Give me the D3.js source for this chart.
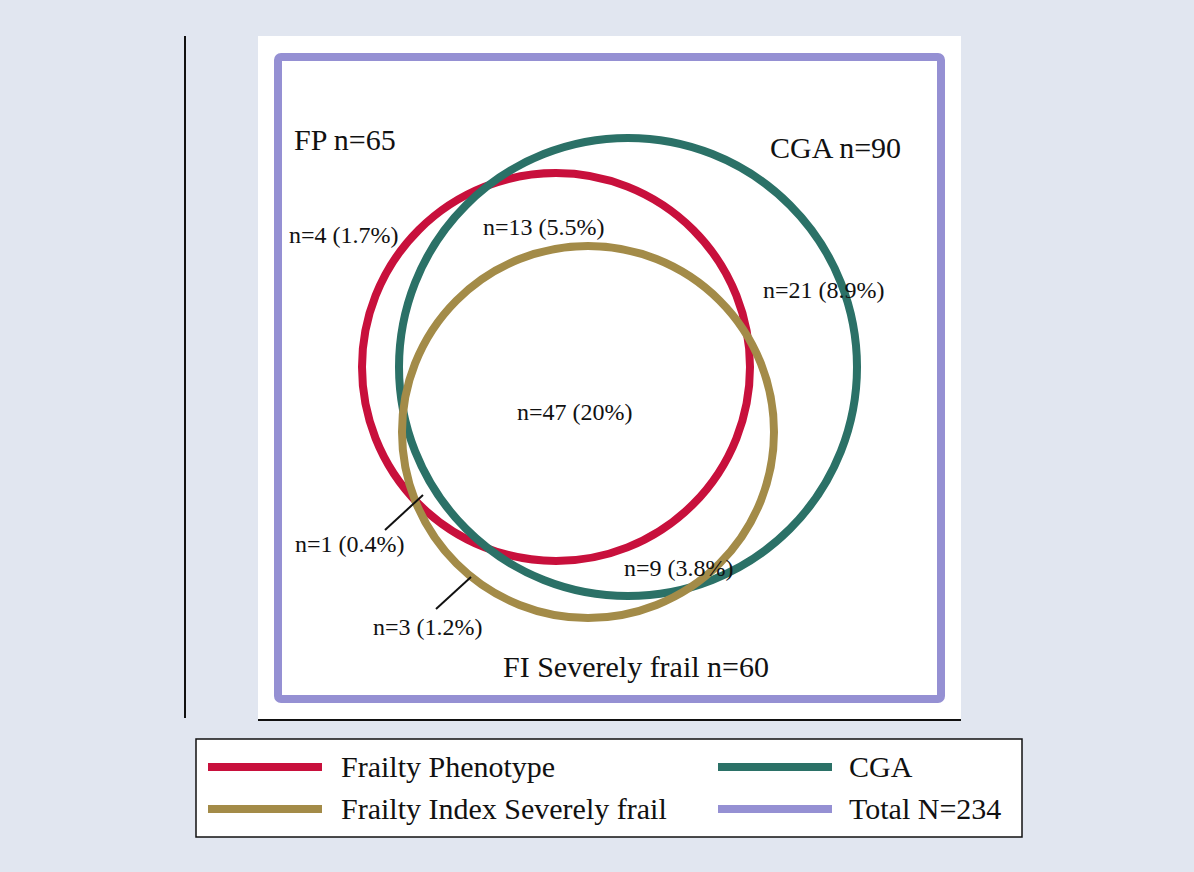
<!DOCTYPE html>
<html><head><meta charset="utf-8">
<script src="https://cdn.jsdelivr.net/npm/d3@7"></script>
<style>
html,body{margin:0;padding:0;background:#e1e6f0;}
svg{display:block;}
text{font-family:"Liberation Serif","Times New Roman",serif;fill:#111;}
</style></head>
<body>
<svg id="chart" width="1194" height="872"></svg>
<script>
// ---- data ----
const setNames = ["FP", "CGA", "FI Severely frail"];
const setCounts = [65, 90, 60];
const legendNames = ["Frailty Phenotype", "CGA", "Frailty Index Severely frail", "Total N=234"];
const totalN = 234;
const regionCounts = [4, 13, 21, 47, 1, 9, 3];
const regionPcts = ["1.7%", "5.5%", "8.9%", "20%", "0.4%", "3.8%", "1.2%"];

// ---- layout (positions in box units: 0..663 horizontally, 0..642 vertically) ----
const colors = ["#c8103c", "#2b7167", "#a38b48"];
const totalColor = "#9590d3";
const circleGeom = [
  {cx: 278, cy: 310, r: 194},
  {cx: 350, cy: 310, r: 229},
  {cx: 310, cy: 375, r: 186}
];
const setLabelPos = [{x: 16, y: 93}, {x: 492, y: 101}, {x: 225, y: 620}];
const regionLabelPos = [
  {x: 11, y: 186}, {x: 205, y: 178}, {x: 485, y: 241}, {x: 239, y: 363},
  {x: 17, y: 495}, {x: 346, y: 519}, {x: 95, y: 578}
];
const leaders = [
  {ri: 4, x1: 107, y1: 473, x2: 145, y2: 438},
  {ri: 6, x1: 158, y1: 552, x2: 193, y2: 520}
];

const svg = d3.select("#chart");
const box = {x0: 278, x1: 941, y0: 57, y1: 699};
const x = d3.scaleLinear().domain([0, 663]).range([box.x0, box.x1]);
const y = d3.scaleLinear().domain([0, 642]).range([box.y0, box.y1]);
const rs = d3.scaleLinear().domain([0, 663]).range([0, 663]);

// plot area background
svg.append("rect").attr("x", 258).attr("y", 36).attr("width", 703).attr("height", 684).attr("fill", "#fff");
// axis lines
svg.append("line").attr("x1", 185).attr("x2", 185).attr("y1", 36).attr("y2", 718).attr("stroke", "#111").attr("stroke-width", 2);
svg.append("line").attr("x1", 258).attr("x2", 961).attr("y1", 720).attr("y2", 720).attr("stroke", "#111").attr("stroke-width", 2);

// total box
svg.append("rect")
  .attr("x", x(0)).attr("y", y(0))
  .attr("width", x(663) - x(0)).attr("height", y(642) - y(0))
  .attr("rx", 3)
  .attr("fill", "none").attr("stroke", totalColor).attr("stroke-width", 8);

// circles
svg.selectAll("circle.set").data(setCounts).join("circle")
  .attr("class", "set")
  .attr("cx", (d, i) => x(circleGeom[i].cx))
  .attr("cy", (d, i) => y(circleGeom[i].cy))
  .attr("r", (d, i) => rs(circleGeom[i].r))
  .attr("fill", "none")
  .attr("stroke", (d, i) => colors[i])
  .attr("stroke-width", 8);

// set labels
svg.selectAll("text.setlab").data(setNames).join("text")
  .attr("class", "setlab")
  .attr("x", (d, i) => x(setLabelPos[i].x))
  .attr("y", (d, i) => y(setLabelPos[i].y))
  .attr("font-size", 30)
  .text((d, i) => `${d} n=${setCounts[i]}`);

// region labels
svg.selectAll("text.reglab").data(regionCounts).join("text")
  .attr("class", "reglab")
  .attr("x", (d, i) => x(regionLabelPos[i].x))
  .attr("y", (d, i) => y(regionLabelPos[i].y))
  .attr("font-size", 24)
  .text((d, i) => `n=${d} (${regionPcts[i]})`);

// leader lines
svg.selectAll("line.leader").data(leaders).join("line")
  .attr("class", "leader")
  .attr("x1", d => x(d.x1)).attr("y1", d => y(d.y1))
  .attr("x2", d => x(d.x2)).attr("y2", d => y(d.y2))
  .attr("stroke", "#111").attr("stroke-width", 2);

// legend
const lg = svg.append("g");
lg.append("rect").attr("x", 196).attr("y", 739).attr("width", 826).attr("height", 98)
  .attr("fill", "#fff").attr("stroke", "#111").attr("stroke-width", 1.5);
const legendColors = [colors[0], colors[1], colors[2], totalColor];
const legCols = [208, 718];
const legRows = [767, 809];
legendNames.forEach((name, i) => {
  const cx = legCols[i % 2], cy = legRows[Math.floor(i / 2)];
  lg.append("line").attr("x1", cx).attr("x2", cx + 114).attr("y1", cy).attr("y2", cy)
    .attr("stroke", legendColors[i]).attr("stroke-width", 8);
  lg.append("text").attr("x", cx + (i % 2 ? 131 : 133)).attr("y", cy + 10)
    .attr("font-size", 30).text(name);
});
</script>
</body></html>
